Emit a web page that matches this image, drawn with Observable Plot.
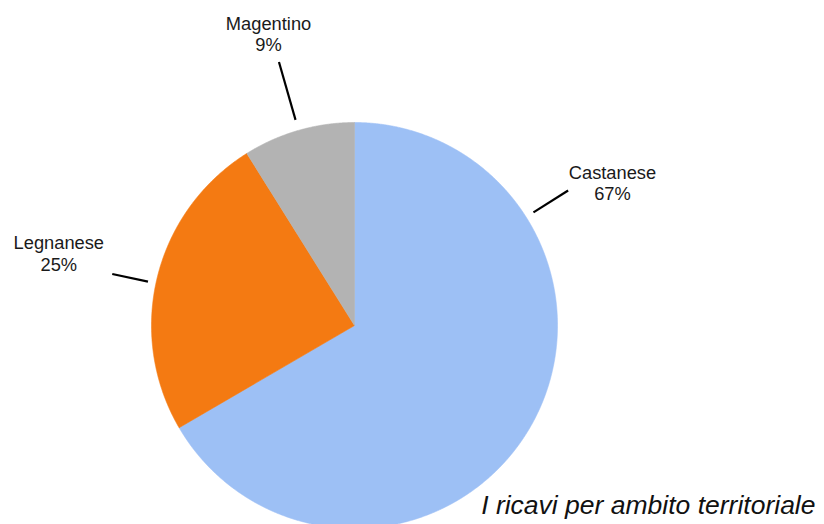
<!DOCTYPE html>
<html>
<head>
<meta charset="utf-8">
<script src="https://cdn.jsdelivr.net/npm/d3@7"></script>
<script src="https://cdn.jsdelivr.net/npm/@observablehq/plot@0.6"></script>
<style>
  html, body { margin: 0; padding: 0; background: #fff; overflow: hidden; }
  #chart svg { display: block; }
</style>
</head>
<body>
<div id="chart"></div>
<script>
// ---- data ----
const categories = ["Castanese", "Legnanese", "Magentino"];
const shares = [66.6, 24.5, 8.9];
const pctLabels = ["67%", "25%", "9%"];
const colors = ["#9dc0f5", "#f47a12", "#b3b3b3"];
const TITLE = "I ricavi per ambito territoriale";

// ---- layout (pixels) ----
const W = 824, H = 524;
const CX = 354, CY = 325, R = 203;

// label layout per category (angles in degrees clockwise from 12 o'clock; radii in units of R)
const labelLayout = {
  Castanese: {lineAngle: 57.7, r1: 1.043, r2: 1.245, textAngle: 61, tr: 1.453},
  Legnanese: {lineAngle: 282, r1: 1.04, r2: 1.22, textAngle: 283.8, tr: 1.5},
  Magentino: {lineAngle: 344, r1: 1.054, r2: 1.35, textAngle: 343.6, tr: 1.5}
};

const arcs = d3.pie().sort(null).value(d => d)(shares);

// slice polygons in unit-circle coordinates
const sliceRows = [];
arcs.forEach((a, i) => {
  const name = categories[i];
  sliceRows.push({name, x: 0, y: 0});
  const n = Math.max(8, Math.ceil((a.endAngle - a.startAngle) / 0.004));
  for (let k = 0; k <= n; k++) {
    const t = a.startAngle + (a.endAngle - a.startAngle) * k / n;
    sliceRows.push({name, x: Math.sin(t), y: Math.cos(t)});
  }
  sliceRows.push({name, x: 0, y: 0});
});

const rad = deg => deg * Math.PI / 180;
const leaderRows = categories.map(name => {
  const L = labelLayout[name];
  const t = rad(L.lineAngle);
  return {
    name,
    x1: L.r1 * Math.sin(t), y1: L.r1 * Math.cos(t),
    x2: L.r2 * Math.sin(t), y2: L.r2 * Math.cos(t)
  };
});
const labelRows = categories.map((name, i) => {
  const L = labelLayout[name];
  const t = rad(L.textAngle);
  return {name, label: name + "\n" + pctLabels[i], x: L.tr * Math.sin(t), y: L.tr * Math.cos(t)};
});

const chart = Plot.plot({
  width: W,
  height: H,
  margin: 0,
  style: {fontFamily: "'Liberation Sans', Arial, Helvetica, sans-serif", background: "#fff"},
  x: {domain: [-CX / R, (W - CX) / R], range: [0, W], axis: null},
  y: {domain: [-(H - CY) / R, CY / R], range: [H, 0], axis: null},
  color: {domain: categories, range: colors},
  marks: [
    Plot.line(sliceRows, {x: "x", y: "y", z: "name", fill: "name", stroke: "name", strokeWidth: 0.6, curve: "linear"}),
    Plot.link(leaderRows, {x1: "x1", y1: "y1", x2: "x2", y2: "y2", stroke: "#000", strokeWidth: 2.2}),
    Plot.text(labelRows, {x: "x", y: "y", text: "label", fontSize: 18.3, lineHeight: 1.18, textAnchor: "middle", fill: "#1a1a1a"}),
    Plot.text([TITLE], {frameAnchor: "bottom-right", text: d => d, fontSize: 26.5, fontStyle: "italic", dx: -9, dy: -11, fill: "#111"})
  ]
});
document.getElementById("chart").appendChild(chart);
</script>
</body>
</html>
